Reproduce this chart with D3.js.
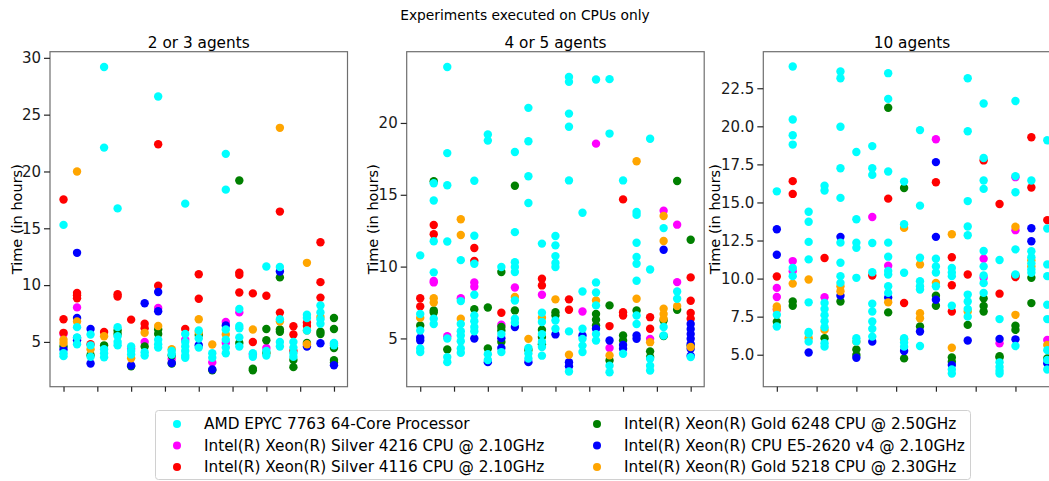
<!DOCTYPE html>
<html>
<head>
<meta charset="utf-8">
<script src="https://cdn.jsdelivr.net/npm/d3@7"></script>
<style>
  body { margin: 0; background: #fff; }
  svg { font-family: "DejaVu Sans", sans-serif; }
</style>
</head>
<body>
<svg id="chart" width="1049" height="481"></svg>
<script>
// CPU names (legend order) and their colours
const cpuNames = [
  'AMD EPYC 7763 64-Core Processor',
  'Intel(R) Xeon(R) Silver 4216 CPU @ 2.10GHz',
  'Intel(R) Xeon(R) Silver 4116 CPU @ 2.10GHz',
  'Intel(R) Xeon(R) Gold 6248 CPU @ 2.50GHz',
  'Intel(R) Xeon(R) CPU E5-2620 v4 @ 2.10GHz',
  'Intel(R) Xeon(R) Gold 5218 CPU @ 2.30GHz'
];
const cpuColors = ['#00ffff', '#ff00ff', '#ff0000', '#008000', '#0000ff', '#ffa500'];

const panelTitles = ['2 or 3 agents', '4 or 5 agents', '10 agents'];
const yTicks1 = [5, 10, 15, 20, 25, 30];
const yTicks2 = [5, 10, 15, 20];
const yTicks3 = [5, 7.5, 10, 12.5, 15, 17.5, 20, 22.5];

// ---- 2 or 3 agents: one entry per experiment column (hours)
const p1Amd = [[15.3,4.0,3.75],[6.3,4.8,5.4],[5.65,4.7,3.7],[29.2,22.1,4.36,4.0,3.65],[16.75,6.3,5.5,5.0,4.7],
  [4.6,4.2,3.9],[4.1,3.8],[26.6,5.2,4.8,4.5],[4.2,3.9],[17.17,5.7,5.0,4.6,4.2,3.8,3.6],[6.0,5.3,4.5],
  [4.0,3.6],[21.55,18.4,6.1,5.2,4.5,4.0],[7.9,6.4,6.2,5.4,4.6],[4.0,3.7],[11.64,4.2,3.8],[11.6,7.0,5.0,4.6],
  [5.0,4.5,4.0,3.7],[7.4,7.1,6.0],[8.2,7.6,7.0,6.6],[4.9,4.7]];
const p1Silver4216 = [[5.7],[8.04],[],[],[],[4.4],[5.0],[7.98],[3.5],[5.2],[],[3.2],[6.75,4.9],[7.6],[3.9],[4.47],[],[],[],[],[4.85]];
const p1Silver4116 = [[17.54,7.0,5.8],[9.3,9.1,8.85],[4.8],[5.88],[9.2,9.0],[6.96],[6.6,6.2],[22.4,9.94],[],[6.14],
  [10.96,8.8],[],[],[11.1,10.9,9.35],[9.27,5.0],[9.07],[16.47,7.58],[6.38,5.65,4.2],[6.7,6.4],[13.77,10.26,8.9],[]];
const p1Gold6248 = [[4.6],[],[3.83],[4.7],[6.0,5.7],[2.85],[4.6],[6.1,5.7],[3.8,3.1],[],[5.6],[2.5],[],[19.2,4.9],
  [2.65,2.5],[6.14,5.15,4.03],[10.68,6.1,5.9],[3.4,2.78],[4.9],[5.9,5.7],[7.1,6.14,4.47,3.4,3.2]];
const p1E52620 = [[4.33],[12.84,7.1,5.35,5.15],[6.14,3.1],[],[],[2.93],[8.4],[9.4,7.7],[3.15],[],[4.7],[2.58],[6.45],
  [],[],[],[11.2],[],[4.6],[4.88],[2.95]];
const p1Gold5218 = [[5.2,4.9],[20.0,6.8],[4.36],[5.5],[],[3.57],[5.8],[6.4],[4.36],[],[7.0,5.88],[4.77],[5.65],[],
  [6.1],[],[23.84,6.8],[],[11.96,6.0,4.8],[7.2],[]];

// ---- 4 or 5 agents
const p2Amd = [[10.78,6.7,5.55,4.3,4.05],[15.8,14.6,11.77,9.6,6.37,6.0],[23.9,17.9,15.66,11.75,5.0,3.7,3.35],
  [10.45,7.6,6.0,5.5,5.2,4.8,4.3,4.0],[15.98,12.15,10.2,8.04,6.6,6.2,5.8,5.5],[19.2,18.77,3.9,3.5],[9.97,5.3,4.05],
  [17.98,12.4,10.3,9.97,9.62,7.64,6.37,6.1],[21.05,18.73,16.29,14.43,4.33,3.95,3.6],[11.6,6.79,6.14,5.3,4.75,4.4,3.8],
  [12.13,11.48,10.73,10.25,9.97,6.25,5.67],[23.2,22.86,20.65,19.74,16.0,5.49,2.7],[13.75,8.27,5.67,4.97,4.5,4.05],
  [23.03,8.9,8.2,7.3,5.3,4.86],[23.05,19.26,3.1,2.65],[16.0,3.93],[13.8,13.6,11.66,10.67,10.2,9.02,6.6,6.0],
  [18.9,9.8,3.58,3.1,2.77],[12.68,5.8,5.2],[8.27,7.76],[3.7]];
const p2Silver4216 = [[],[9.0,8.9],[5.16],[7.8],[8.9,8.6],[],[5.95],[8.55],[],[8.04],[],[],[6.88],[18.56],[4.33],[],[],
  [4.97],[13.89],[12.92,8.92],[]];
const p2Silver4116 = [[7.8,7.23],[12.9,12.25],[],[],[11.3,10.4],[],[6.79],[],[],[9.15,8.69],[],[7.72,7.0],[],[],[5.86],
  [14.68,6.83,6.6],[],[6.48,5.67],[],[],[9.25,7.62,6.77,6.37]];
const p2Gold6248 = [[5.9],[15.95,6.95,6.8],[4.23],[],[7.04],[7.15,4.3],[9.62,5.8,5.55,4.75],[15.63,6.95],[4.2],
  [5.6,5.1,4.6],[6.83,6.6],[],[],[6.7,6.3,5.9],[7.3,3.47],[5.2,4.86],[6.95],[4.1,3.7],[6.25,5.16],[15.96,7.0],[11.87,4.5]];
const p2E52620 = [[5.05,4.86],[],[],[],[5.0],[3.35],[5.02,4.33],[5.8],[3.35],[],[5.28],[3.35,3.07],[5.2],[5.67],[4.86],
  [4.55,4.28],[5.2,4.98],[],[11.17],[],[6.0,5.65,5.3,4.98,4.62,4.28,3.8]];
const p2Gold5218 = [[6.43],[7.8,7.5],[],[13.3,12.2,6.37],[],[],[],[7.88],[4.97],[6.44],[7.72],[3.86],[],[7.64],[3.82],
  [],[17.33,7.76],[4.74],[13.52,11.78,7.07,6.7,6.37],[7.25],[4.4]];

// ---- 10 agents
const p3Amd = [[15.73,7.62,6.85],[23.93,20.45,19.41,18.8,10.7,10.16],[14.39,13.73,12.41,11.26,8.44,6.5,6.4,5.86],
  [16.1,15.78,8.4,8.0,7.6,7.2,6.8,5.75,5.53],[23.6,23.16,19.97,17.25,15.3,12.36,11.04,10.16,9.72],
  [18.31,13.9,12.36,12.03,10.05,6.08,5.86],[18.7,17.25,16.81,12.34,10.42,8.35,7.84,7.18,6.7,6.19],
  [23.49,21.8,17.03,12.36,11.44,10.5,10.27,9.5,9.06],[16.37,13.57,10.38,6.08,5.8,5.53],
  [19.75,14.79,11.37,9.83,9.5,9.28,5.57],[11.3,10.8,10.4,9.5],[10.7,10.4,10.16,8.22,4.03,3.77],
  [23.16,19.68,15.09,13.42,12.85,8.95,8.5,8.0,7.5],[21.5,17.92,16.44,15.89,11.81,10.8,10.2,9.7,9.06],
  [11.22,7.34,4.5,4.2,3.95,3.77],[21.66,16.73,15.67,11.92,10.27,5.57],[16.44,11.8,11.4,11.0,10.6,10.38],
  [19.08,13.29,10.93,10.16,8.28,7.34,5.3,4.65,4.03]];
const p3Silver4216 = [[9.39,8.79,7.95],[11.15,10.49],[],[8.77],[],[],[14.04],[10.84],[],[],[19.15],[],[],[11.3,10.05],
  [5.75],[16.66,13.18],[],[5.97]];
const p3Silver4116 = [[10.14],[16.4,15.56],[],[11.35],[],[],[10.2],[15.25],[8.4],[],[16.33],[11.4,9.56,7.84],[10.27],
  [17.76],[14.9,9.01],[10.2,10.1],[19.28,15.98],[13.84]];
const p3Gold6248 = [[7.16],[8.5,8.22],[],[6.08],[8.5],[5.35,4.98],[],[21.22,7.78],[15.95,4.76],[6.85],[8.88,8.22],
  [4.82,4.54],[6.96],[8.7,8.2,7.84],[4.9,4.82],[6.9,6.63],[10.05,8.39],[4.76]];
const p3E52620 = [[13.24,11.57],[],[5.15],[],[12.74,8.88],[4.8],[5.86],[8.75],[5.24],[6.52],[17.65,12.74,8.61],[4.32],
  [5.93],[],[6.04],[6.01],[13.31,12.45],[4.43]];
const p3Gold5218 = [[8.17,8.0],[9.67],[9.94,6.08],[6.63],[9.5,9.17],[5.86],[],[8.44],[13.33,6.01],[10.93,7.73,7.4],
  [9.72],[12.91,5.46],[7.84],[],[],[13.4,7.62],[11.2,10.8],[5.64]];

const panels = [
  { title: panelTitles[0], series: [p1Amd, p1Silver4216, p1Silver4116, p1Gold6248, p1E52620, p1Gold5218],
    left: 50, labelGap: 28, xDomain: [-1, 21], yDomain: [1.06, 30.54], ticks: yTicks1, fmt: d3.format('d') },
  { title: panelTitles[1], series: [p2Amd, p2Silver4216, p2Silver4116, p2Gold6248, p2E52620, p2Gold5218],
    left: 406.7, labelGap: 29, xDomain: [-1, 21], yDomain: [1.64, 24.96], ticks: yTicks2, fmt: d3.format('d') },
  { title: panelTitles[2], series: [p3Amd, p3Silver4216, p3Silver4116, p3Gold6248, p3E52620, p3Gold5218],
    left: 763.3, labelGap: 43, xDomain: [-0.85, 17.85], yDomain: [2.9, 24.9], ticks: yTicks3, fmt: d3.format('.1f') }
];

const panelW = 297.5, plotTop = 51.7, plotBottom = 386.7;
const drawOrder = [1, 2, 3, 4, 5, 0];
const svg = d3.select('#chart');

svg.append('text')
  .attr('x', 525).attr('y', 20)
  .attr('text-anchor', 'middle')
  .attr('font-size', 13.8)
  .text('Experiments executed on CPUs only');

panels.forEach(p => {
  const x = d3.scaleLinear().domain(p.xDomain).range([p.left, p.left + panelW]);
  const y = d3.scaleLinear().domain(p.yDomain).range([plotBottom, plotTop]);
  const g = svg.append('g');

  const pts = [];
  drawOrder.forEach(ci => {
    p.series[ci].forEach((col, i) => col.forEach(v => pts.push({ x: i, y: v, c: ci })));
  });

  g.selectAll('circle')
    .data(pts)
    .enter()
    .append('circle')
    .attr('cx', d => x(d.x))
    .attr('cy', d => y(d.y))
    .attr('r', 4.2)
    .attr('fill', d => cpuColors[d.c]);

  g.append('rect')
    .attr('x', p.left).attr('y', plotTop)
    .attr('width', panelW).attr('height', plotBottom - plotTop)
    .attr('fill', 'none').attr('stroke', '#6e6e6e').attr('stroke-width', 1.2);

  const yAxis = g.append('g')
    .attr('transform', `translate(${p.left},0)`)
    .call(d3.axisLeft(y).tickValues(p.ticks).tickFormat(p.fmt).tickSize(6).tickPadding(3));
  const xAxis = g.append('g')
    .attr('transform', `translate(0,${plotBottom})`)
    .call(d3.axisBottom(x).tickValues(d3.range(0, 20.1, 2.5)).tickFormat('').tickSize(5));

  [yAxis, xAxis].forEach(a => {
    a.select('.domain').remove();
    a.selectAll('line').attr('stroke', '#262626').attr('stroke-width', 1.2);
    a.selectAll('text').attr('font-size', 15).attr('fill', '#1a1a1a')
      .attr('font-family', '"DejaVu Sans", sans-serif');
  });

  g.append('text')
    .attr('x', p.left + panelW / 2).attr('y', plotTop - 4)
    .attr('text-anchor', 'middle')
    .attr('font-size', 15.3)
    .text(p.title);

  g.append('text')
    .attr('transform', `translate(${p.left - p.labelGap},${(plotTop + plotBottom) / 2}) rotate(-90)`)
    .attr('text-anchor', 'middle')
    .attr('font-size', 14.5)
    .text('Time (in hours)');
});

// legend: two columns, filled column-wise
const legend = svg.append('g');
legend.append('rect')
  .attr('x', 155.5).attr('y', 410.5).attr('width', 815).attr('height', 69)
  .attr('rx', 3).attr('fill', '#fff').attr('stroke', '#d0d0d0');

const item = legend.selectAll('g.item')
  .data(cpuNames)
  .enter()
  .append('g')
  .attr('class', 'item')
  .attr('transform', (d, i) => `translate(${i < 3 ? 177 : 597},${424 + (i % 3) * 21.5})`);

item.append('circle').attr('r', 4).attr('fill', (d, i) => cpuColors[i]);
item.append('text')
  .attr('x', 27).attr('dy', '0.35em')
  .attr('font-size', 15.3)
  .text(d => d);
</script>
</body>
</html>
